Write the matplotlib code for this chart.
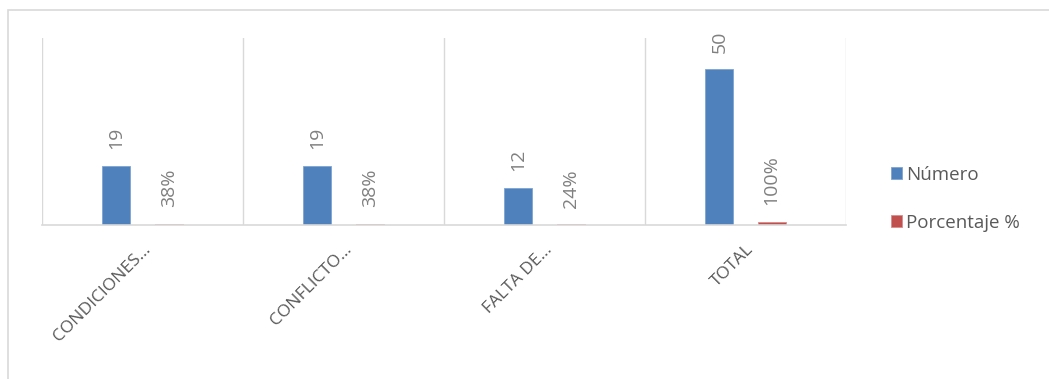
import matplotlib
matplotlib.use("Agg")
import matplotlib.pyplot as plt
import numpy as np
from matplotlib.patches import Rectangle

# 数据
categorias = ["CONDICIONES…", "CONFLICTO…", "FALTA DE…", "TOTAL"]
numero = [19, 19, 12, 50]
porcentaje = [0.38, 0.38, 0.24, 1.00]
etiquetas_pct = ["38%", "38%", "24%", "100%"]

plt.rcParams['font.family'] = ['Open Sans', 'DejaVu Sans']

fig = plt.figure(figsize=(10.49, 3.79), dpi=100)
fig.patch.set_facecolor('white')

# 外框
fig.patches.append(Rectangle((8 / 1049, -0.1), 1.2, (1 - 10 / 379) + 0.1,
                             transform=fig.transFigure, fill=False,
                             edgecolor='#d9d9d9', linewidth=1.2))

ax = fig.add_axes([42 / 1049, 1 - 225 / 379, (846 - 42) / 1049, (225 - 38) / 379])

x = np.arange(len(categorias))
ancho = 0.14
off = 0.13
b1 = ax.bar(x - off, numero, ancho, color='#4F81BD', edgecolor='#7FA3D3',
            linewidth=0.6, label='Número')
b2 = ax.bar(x + off, porcentaje, ancho, color='#C0504D', edgecolor='#D98C8A',
            linewidth=0.6, label='Porcentaje %')

for rect, v in zip(b1, numero):
    ax.annotate(str(v), (rect.get_x() + rect.get_width() / 2, rect.get_height()),
                xytext=(0, 12), textcoords='offset points', rotation=90,
                ha='center', va='bottom', fontsize=14, color='#808080')
for rect, t in zip(b2, etiquetas_pct):
    ax.annotate(t, (rect.get_x() + rect.get_width() / 2, rect.get_height()),
                xytext=(0, 12), textcoords='offset points', rotation=90,
                ha='center', va='bottom', fontsize=14, color='#808080')

ax.set_xlim(-0.5, len(categorias) - 0.5)
ax.set_ylim(0, 60)
ax.set_yticks([])
ax.set_xticks(x)
ax.set_xticklabels(categorias, rotation=45, ha='right', rotation_mode='anchor',
                   fontsize=12.5, color='#595959')
ax.tick_params(axis='x', length=0, pad=12)
ax.set_xticks(np.arange(-0.5, len(categorias)), minor=True)
ax.tick_params(axis='x', which='minor', length=0)
ax.grid(True, which='minor', axis='x', color='#d9d9d9', linewidth=1)
ax.set_axisbelow(True)

for s in ['top', 'right', 'left']:
    ax.spines[s].set_visible(False)
ax.spines['bottom'].set_color('#d9d9d9')
ax.spines['bottom'].set_linewidth(1.2)

ley = fig.legend(loc='center left', bbox_to_anchor=(874 / 1049, 1 - 199 / 379),
                 frameon=False, fontsize=13.5, handlelength=0.6, handleheight=0.6,
                 handletextpad=0.2, labelspacing=1.6, labelcolor='#595959')

fig.savefig('out.png', dpi=100)
